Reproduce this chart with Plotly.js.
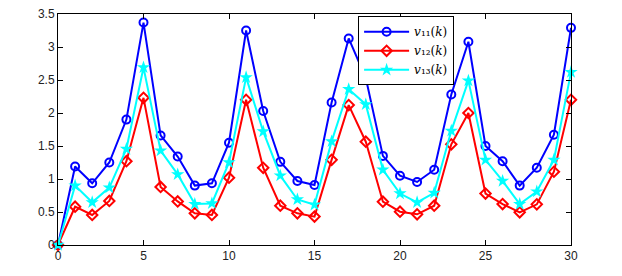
<!DOCTYPE html>
<html><head><meta charset="utf-8">
<script src="https://cdn.plot.ly/plotly-3.0.1.min.js"></script>
<style>html,body{margin:0;padding:0;background:#fff}#chart{width:622px;height:276px}</style>
</head><body><div id="chart"></div>
<script>
const k = [0,1,2,3,4,5,6,7,8,9,10,11,12,13,14,15,16,17,18,19,20,21,22,23,24,25,26,27,28,29,30];
const v11 = [0,1.19,0.935,1.25,1.90,3.37,1.66,1.34,0.90,0.935,1.55,3.25,2.03,1.26,0.97,0.91,2.16,3.13,2.53,1.35,1.05,0.955,1.14,2.28,3.08,1.50,1.27,0.90,1.17,1.67,3.29];
const v12 = [0,0.58,0.455,0.667,1.27,2.23,0.88,0.66,0.48,0.455,1.02,2.20,1.17,0.595,0.48,0.43,1.29,2.12,1.565,0.656,0.505,0.465,0.595,1.525,2.0,0.78,0.62,0.495,0.616,1.11,2.20];
const v13 = [0,0.90,0.647,0.87,1.455,2.69,1.43,1.07,0.62,0.63,1.25,2.54,1.72,1.05,0.69,0.61,1.57,2.36,2.13,1.14,0.78,0.647,0.79,1.73,2.49,1.29,0.97,0.62,0.81,1.29,2.62];
const names = ['<i>v</i>₁₁(<i>k</i>)','<i>v</i>₁₂(<i>k</i>)','<i>v</i>₁₃(<i>k</i>)'];
const xTicks = [0,5,10,15,20,25,30];
const yTicks = [0,0.5,1,1.5,2,2.5,3,3.5];
const yTickText = ['0','0.5','1','1.5','2','2.5','3','3.5'];

const traces = [
  {x:k,y:v11,name:names[0],mode:'lines+markers',cliponaxis:false,line:{color:'#0000ff',width:2},
   marker:{symbol:'circle-open',size:8,color:'#0000ff',line:{width:2}}},
  {x:k,y:v12,name:names[1],mode:'lines+markers',cliponaxis:false,line:{color:'#ff0000',width:2},
   marker:{symbol:'diamond-open',size:8,color:'#ff0000',line:{width:2}}},
  {x:k,y:v13,name:names[2],mode:'lines+markers',cliponaxis:false,line:{color:'#00ffff',width:2},
   marker:{symbol:'star',size:10,color:'#00ffff'}}
];
const axisBase = {showgrid:false,zeroline:false,showline:true,mirror:'ticks',linecolor:'#000',linewidth:1,
  ticks:'inside',ticklen:5,tickcolor:'#000',tickfont:{family:'Liberation Sans, Arial, sans-serif',size:12,color:'#222'}};
const layout = {
  width:622,height:276,margin:{l:58,r:51,t:14,b:31},
  paper_bgcolor:'#fff',plot_bgcolor:'#fff',
  xaxis:Object.assign({},axisBase,{range:[0,30],tickvals:xTicks,ticktext:xTicks.map(String)}),
  yaxis:Object.assign({},axisBase,{range:[0,3.5],tickvals:yTicks,ticktext:yTickText}),
  showlegend:true,
  legend:{x:0.585,y:0.99,xanchor:'left',yanchor:'top',bgcolor:'#fff',bordercolor:'#000',borderwidth:1,
    font:{family:'DejaVu Serif, serif',size:12,color:'#000'},tracegroupgap:0,itemwidth:45}
};
Plotly.newPlot('chart',traces,layout,{displayModeBar:false,staticPlot:true});
</script></body></html>
